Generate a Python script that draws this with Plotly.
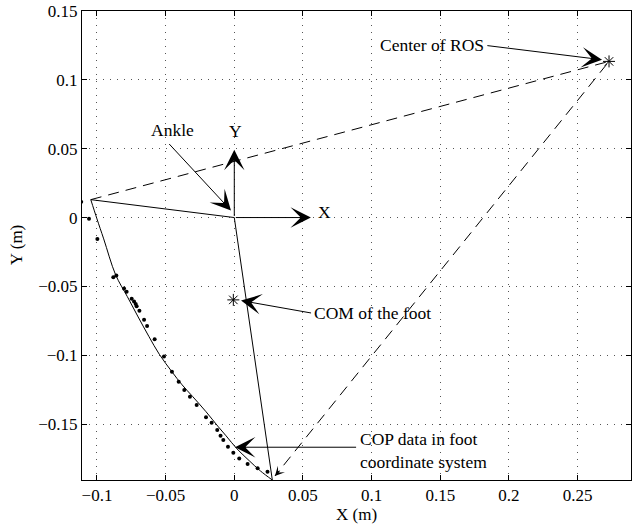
import plotly.graph_objects as go

# ---- data ----
cop_x = [-0.1115, -0.1058, -0.0997, -0.0881, -0.0859, -0.0803, -0.0784, -0.0747, -0.0730, -0.0718,
         -0.0711, -0.0691, -0.0657, -0.0635, -0.0580, -0.0512, -0.0454, -0.0405, -0.0364, -0.0323,
         -0.0274, -0.0206, -0.0165, -0.0124, -0.0100, -0.0080, -0.0046, -0.0007, 0.0036, 0.0097,
         0.0170, 0.0242]
cop_y = [0.0114, -0.0009, -0.0155, -0.0433, -0.0421, -0.0516, -0.0538, -0.0589, -0.0610, -0.0627,
         -0.0644, -0.0676, -0.0743, -0.0787, -0.0884, -0.1010, -0.1119, -0.1192, -0.1252, -0.1301,
         -0.1361, -0.1451, -0.1490, -0.1543, -0.1584, -0.1616, -0.1664, -0.1708, -0.1749, -0.1790,
         -0.1821, -0.1846]

curve_x = [-0.1045, -0.1000, -0.0951, -0.0864, -0.0779, -0.0700, -0.0621, -0.0546, -0.0454, -0.0380,
           -0.0303, -0.0206, -0.0120, -0.0060, 0.0020, 0.0109, 0.0190, 0.0277]
curve_y = [0.0130, -0.0010, -0.0155, -0.0416, -0.0574, -0.0722, -0.0865, -0.0993, -0.1120, -0.1215,
           -0.1300, -0.1410, -0.1515, -0.1585, -0.1680, -0.1766, -0.1840, -0.1906]

heel = (-0.1045, 0.0130)
ankle = (0.0, 0.0)
toe = (0.0277, -0.1906)
ros_center = (0.2729, 0.1134)
foot_com = (-0.0007, -0.0598)
ros_end = (0.0296, -0.1877)

x_ticks = [-0.1, -0.05, 0, 0.05, 0.1, 0.15, 0.2, 0.25]
x_tick_text = ["\u22120.1", "\u22120.05", "0", "0.05", "0.1", "0.15", "0.2", "0.25"]
y_ticks = [-0.15, -0.1, -0.05, 0, 0.05, 0.1, 0.15]
y_tick_text = ["\u22120.15", "\u22120.1", "\u22120.05", "0", "0.05", "0.1", "0.15"]

x_range = [-0.1109, 0.2889]
y_range = [-0.1906, 0.15]

FONT = "Liberation Serif, Times New Roman, serif"

fig = go.Figure()

# foot outline: curved sole then toe -> ankle -> heel
fig.add_trace(go.Scatter(x=curve_x, y=curve_y, mode="lines", line=dict(color="black", width=1, shape="spline"),
                         showlegend=False, hoverinfo="skip"))
fig.add_trace(go.Scatter(x=[toe[0], ankle[0], heel[0]], y=[toe[1], ankle[1], heel[1]], mode="lines",
                         line=dict(color="black", width=1), showlegend=False, hoverinfo="skip"))
# dashed region of stability lines
fig.add_trace(go.Scatter(x=[heel[0], ros_center[0], ros_end[0]], y=[heel[1], ros_center[1], ros_end[1]],
                         mode="lines", line=dict(color="black", width=1, dash="11px,7px"),
                         showlegend=False, hoverinfo="skip"))
# COP dots
fig.add_trace(go.Scatter(x=cop_x, y=cop_y, mode="markers", marker=dict(color="black", size=4),
                         showlegend=False, hoverinfo="skip"))
# stars
fig.add_trace(go.Scatter(x=[ros_center[0], foot_com[0]], y=[ros_center[1], foot_com[1]], mode="markers",
                         marker=dict(symbol="asterisk-open", size=10, color="black", line=dict(width=1, color="#222")),
                         showlegend=False, hoverinfo="skip"))

def arrow(tail, head, size=3.4):
    fig.add_annotation(x=head[0], y=head[1], ax=tail[0], ay=tail[1], xref="x", yref="y", axref="x", ayref="y",
                       text="", showarrow=True, arrowhead=3, arrowsize=size, arrowwidth=1, arrowcolor="black")

def label(x, y, t, anchor="center"):
    fig.add_annotation(x=x, y=y, xref="x", yref="y", text=t, showarrow=False, xanchor=anchor, yanchor="middle",
                       align="left", font=dict(family=FONT, size=17.5, color="black"))

arrow((0.1832, 0.1250), (0.2678, 0.1146))
arrow((-0.0484, 0.0545), (-0.0024, 0.0051))
arrow((0.0, 0.0), (0.0, 0.0492))
arrow((0.0, 0.0), (0.0558, 0.0))
arrow((0.0570, -0.0695), (0.0049, -0.0603))
arrow((0.0898, -0.1668), (0.0005, -0.1668))
arrow((0.0340, -0.1829), ros_end, size=1.6)

label(0.1441, 0.1255, "Center of ROS")
label(-0.0449, 0.0637, "Ankle")
label(0.0007, 0.0630, "Y")
label(0.0655, 0.0040, "X")
label(0.0568, -0.0693, "COM of the foot", anchor="left")
label(0.0898, -0.1692, "COP data in foot<br>coordinate system", anchor="left")

# axis titles
fig.add_annotation(x=0.5, y=-0.0746, xref="paper", yref="paper", text="X (m)", showarrow=False,
                   xanchor="center", yanchor="middle", font=dict(family=FONT, size=17, color="black"))
fig.add_annotation(x=-0.119, y=0.5, xref="paper", yref="paper", text="Y (m)", showarrow=False, textangle=-90,
                   xanchor="center", yanchor="middle", font=dict(family=FONT, size=17, color="black"))

axis_common = dict(showline=True, linecolor="black", linewidth=1, mirror="ticks", ticks="inside", ticklen=5,
                   tickcolor="black", tickwidth=1, showgrid=True, gridcolor="#555", gridwidth=1,
                   griddash="1px,6px", zeroline=False, tickfont=dict(family=FONT, size=17, color="black"))

fig.update_xaxes(range=x_range, tickvals=x_ticks, ticktext=x_tick_text, **axis_common)
fig.update_yaxes(range=y_range, tickvals=y_ticks, ticktext=y_tick_text, **axis_common)

fig.update_layout(width=632, height=528, margin=dict(l=82, r=1, t=11, b=48), plot_bgcolor="white",
                  paper_bgcolor="white", showlegend=False)

fig.write_html("out.html")
